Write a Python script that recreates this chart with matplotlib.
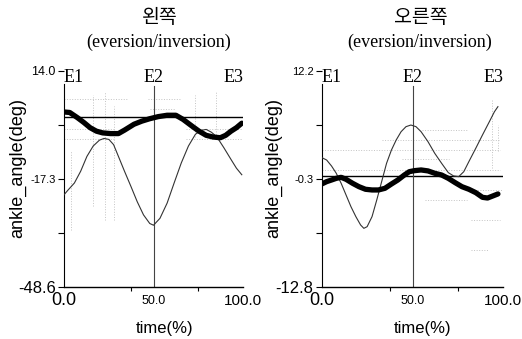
import matplotlib.pyplot as plt
import matplotlib.transforms as mtransforms

plt.rcParams['font.family'] = ['Liberation Sans Narrow', 'Liberation Sans', 'DejaVu Sans']

# 왼쪽 (left) data, time in % of cycle
left_thin_x = [0, 2.3, 5.8, 9.3, 12.8, 16.3, 19.8, 22.4, 25.1, 27.7, 30.4, 33.8, 37.4, 40.9, 44.4, 47.9,
               50, 53.6, 57.6, 61.5, 65.5, 69.5, 73.4, 76.4, 79.4, 82.3, 85.3, 89.3, 93.3, 96.3, 99.3]
left_thin_y = [-21.8, -20.4, -18.4, -15.0, -10.7, -7.7, -6.0, -5.5, -5.8, -7.3, -10.7, -15.0, -19.4, -23.8,
               -27.6, -30.1, -30.6, -28.6, -24.2, -18.4, -12.6, -7.7, -4.3, -3.2, -2.9, -3.7, -5.0, -8.2,
               -11.6, -14.1, -16.0]
left_thick_x = [0, 3.2, 7.5, 11.1, 14.6, 18.1, 21.6, 26, 30.4, 33.8, 39.1, 43.5, 47.9, 52.6, 57.6, 62.5,
                66.5, 71.4, 75.4, 79.4, 83.3, 87.3, 90.3, 93.3, 96.3, 99.3]
left_thick_y = [2.15, 2.0, 0.5, -0.9, -2.4, -3.4, -3.9, -4.1, -4.1, -3.1, -1.4, -0.5, 0.2, 0.8, 1.2, 1.2,
                0.0, -1.9, -3.4, -4.6, -5.1, -5.3, -4.6, -3.4, -2.4, -1.1]
left_ref = 0.8
left_yticks = [14.0, -17.3, -48.6]

# 오른쪽 (right) data
right_thin_x = [0, 2.7, 5.4, 8.0, 10.7, 13.4, 16.1, 18.8, 21.4, 23.2, 25.0, 27.7, 30.3, 33.0, 35.7, 38.4,
                41.0, 43.7, 46.4, 49.1, 51.9, 54.7, 58.5, 62.2, 66.0, 69.7, 72.6, 75.4, 78.2, 81.0, 84.8,
                88.5, 92.3, 95.1, 97.0]
right_thin_y = [2.2, 1.92, 1.23, 0.39, -0.77, -2.12, -3.47, -4.62, -5.58, -5.97, -5.78, -4.62, -2.7, -0.58,
                1.54, 3.08, 4.23, 5.19, 5.77, 5.96, 5.77, 5.19, 4.04, 2.7, 1.54, 0.46, 0.08, 0.0, 0.57,
                1.73, 3.27, 4.81, 6.35, 7.5, 8.08]
right_thick_x = [0, 2.7, 5.4, 8.0, 10.7, 13.4, 17.0, 20.5, 24.1, 27.7, 31.2, 34.8, 38.4, 41.9, 45.5, 48.2,
                 51.0, 54.7, 58.5, 62.2, 66.0, 69.7, 73.5, 77.2, 81.0, 84.8, 88.5, 91.3, 94.1, 97.0]
right_thick_y = [-0.85, -0.58, -0.39, -0.2, -0.08, -0.31, -0.77, -1.16, -1.46, -1.54, -1.54, -1.35, -0.85,
                 -0.39, 0.19, 0.57, 0.69, 0.77, 0.66, 0.39, 0.19, -0.2, -0.7, -1.16, -1.46, -1.85, -2.39,
                 -2.47, -2.24, -2.0]
right_ref = 0.1
right_yticks = [12.2, -0.3, -12.8]

events = ['E1', 'E2', 'E3']
event_x = [0, 50, 100]
xtick_labels = ['0.0', '50.0', '100.0']

fig = plt.figure(figsize=(5.22, 3.39), dpi=100)
ax1 = fig.add_axes([0.1226, 0.152, 0.343, 0.6386])
ax2 = fig.add_axes([0.6163, 0.152, 0.348, 0.6386])

# faint dotted background segments
grid_left_h = [(6.0, 0, 35), (6.0, 47, 65), (2.9, 48, 62), (-2.7, 0, 28), (-2.7, 68, 100), (-5.8, 0, 28), (-5.8, 68, 100)]
grid_left_v = [(4, -32, -9), (16, -25, 7), (23, -29, 8), (28, -29, 4), (73, -5, 7), (85, -5, 8)]
grid_right_h = [(4.2, 33, 98), (3.1, 0, 98), (2.0, 44, 70), (0.8, 0, 98), (-1.6, 80, 100), (-2.7, 57, 80), (-5.0, 82, 98), (-8.5, 82, 92), (5.4, 55, 80)]
grid_right_v = [(94, 1, 9), (97, 3, 6)]


def draw_panel(ax, thin_x, thin_y, thick_x, thick_y, ref, yticks, gh, gv, ylab_sizes):
    ylo, yhi = yticks[-1], yticks[0]
    for y, a, b in gh:
        ax.plot([a, b], [y, y], color='#c4c4c4', lw=0.7, ls=':', zorder=1)
    for x, a, b in gv:
        ax.plot([x, x], [a, b], color='#c4c4c4', lw=0.7, ls=':', zorder=1)
    ax.axhline(ref, color='black', lw=1.0, zorder=2)
    ax.axvline(50, color='#444444', lw=0.8, ymax=0.93, zorder=2)
    ax.plot(thin_x, thin_y, color='#333333', lw=0.8, zorder=3)
    ax.plot(thick_x, thick_y, color='black', lw=3.8, solid_capstyle='round',
            solid_joinstyle='round', zorder=4)
    ax.set_xlim(0, 100)
    ax.set_ylim(ylo, yhi)
    for s in ['top', 'right']:
        ax.spines[s].set_visible(False)
    ax.spines['left'].set_bounds(ylo, yhi - (yhi - ylo) * 0.061)
    ax.spines['left'].set_linewidth(0.8)
    ax.spines['bottom'].set_linewidth(1.0)
    ax.set_yticks(yticks, [f'{v:.1f}' for v in yticks])
    ax.set_yticks([(yticks[0] + yticks[1]) / 2, (yticks[1] + yticks[2]) / 2], minor=True)
    ax.tick_params(axis='y', which='both', length=4, width=0.8, pad=2)
    for lab, fs in zip(ax.get_yticklabels(), ylab_sizes):
        lab.set_fontsize(fs)
    ax.set_xticks([])
    ax.set_xticks([37.5, 75], minor=True)
    ax.tick_params(axis='x', which='minor', length=3, width=0.8)
    trans = mtransforms.blended_transform_factory(ax.transData, ax.transAxes)
    for ev, ex, ha in zip(events, event_x, ['left', 'center', 'right']):
        ax.text(ex, 0.972, ev, transform=trans, ha=ha, va='center',
                family='Liberation Serif', fontsize=13)
    for lab, ex, fs in zip(xtick_labels, event_x, [13, 9, 11]):
        ax.text(ex, -0.062, lab, transform=trans, ha='center', va='center', fontsize=fs)


draw_panel(ax1, left_thin_x, left_thin_y, left_thick_x, left_thick_y, left_ref,
           left_yticks, grid_left_h, grid_left_v, [9, 8, 12])
draw_panel(ax2, right_thin_x, right_thin_y, right_thick_x, right_thick_y, right_ref,
           right_yticks, grid_right_h, grid_right_v, [8, 8, 12])

for cx, title in [(0.3065, '왼쪽'), (0.8065, '오른쪽')]:
    fig.text(cx, 0.948, title, ha='center', va='center', fontsize=14,
             family=['Noto Sans CJK KR', 'DejaVu Sans'])
    fig.text(cx - 0.002, 0.876, '(eversion/inversion)', ha='center', va='center',
             fontsize=13, family='Liberation Serif')

for cx in [0.316, 0.81]:
    fig.text(cx, 0.03, 'time(%)', ha='center', va='center', fontsize=12)

for cx in [0.034, 0.525]:
    fig.text(cx, 0.504, 'ankle_angle(deg)', ha='center', va='center', rotation=90,
             fontsize=13, family=['Liberation Sans', 'DejaVu Sans'])

fig.savefig('out.png', dpi=100)
